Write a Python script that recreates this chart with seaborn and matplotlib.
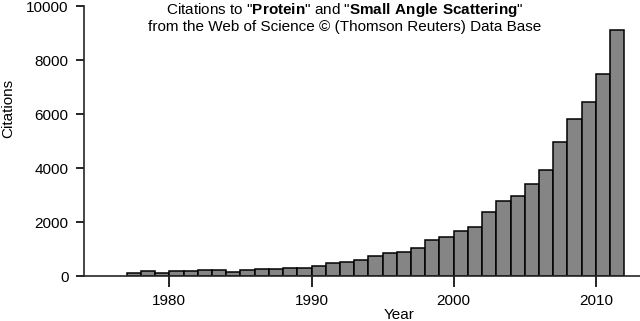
import matplotlib
import pandas as pd
import seaborn as sns

matplotlib.use("Agg")
import matplotlib.pyplot as plt

YEARS = list(range(1977, 2012))
CITATIONS = [
    125, 200, 125, 175, 185, 235, 235, 160, 220, 245,
    245, 310, 295, 385, 470, 530, 595, 730, 840, 900,
    1035, 1335, 1430, 1665, 1815, 2385, 2765, 2975, 3420, 3925,
    4950, 5815, 6455, 7470, 9110,
]
Y_TICKS = [0, 2000, 4000, 6000, 8000, 10000]
X_TICKS = [1980, 1990, 2000, 2010]


def configure_plot_style() -> None:
    sns.set_theme(style="ticks", context="notebook")
    plt.rcParams.update(
        {
            "font.family": ["Liberation Sans", "DejaVu Sans"],
            "mathtext.fontset": "custom",
            "mathtext.rm": "Liberation Sans",
            "mathtext.bf": "Liberation Sans:bold",
            "axes.linewidth": 1.2,
            "xtick.major.width": 1.2,
            "ytick.major.width": 1.2,
            "text.color": "black",
            "axes.labelcolor": "black",
            "xtick.color": "black",
            "ytick.color": "black",
        }
    )


def plot_citations() -> None:
    df = pd.DataFrame({"year": YEARS, "citations": CITATIONS})

    fig = plt.figure(figsize=(6.4, 3.21), dpi=100)
    ax = fig.add_axes([84 / 640, 45 / 321, 556 / 640, 270 / 321])

    sns.histplot(
        data=df,
        x="year",
        weights="citations",
        binwidth=1,
        binrange=(YEARS[0], YEARS[-1] + 1),
        color="#858585",
        edgecolor="black",
        linewidth=1.1,
        alpha=1,
        ax=ax,
    )

    ax.set_xlim(1974, 2013.1)
    ax.set_ylim(0, 10000)
    ax.set_xticks(X_TICKS)
    ax.set_yticks(Y_TICKS)
    ax.tick_params(axis="x", length=8, pad=5, labelsize=11)
    ax.tick_params(axis="y", length=6, pad=5, labelsize=11)
    for spine in ("top", "right"):
        ax.spines[spine].set_visible(False)

    ax.set_xlabel("Year", fontsize=11)
    ax.set_ylabel("Citations", fontsize=11)
    ax.xaxis.set_label_coords((399 - 84) / 556, -0.12)
    ax.yaxis.set_label_coords(-0.124, 0.622)

    fig.text(
        345 / 640,
        0.996,
        r'Citations to "$\mathbf{Protein}$" and "$\mathbf{Small\ Angle\ Scattering}$"'
        "\nfrom the Web of Science \u00a9 (Thomson Reuters) Data Base",
        ha="center",
        va="top",
        fontsize=11,
        linespacing=1.05,
    )

    fig.savefig("out.png", dpi=100)
    plt.close(fig)


def main() -> None:
    configure_plot_style()
    plot_citations()


if __name__ == "__main__":
    main()
